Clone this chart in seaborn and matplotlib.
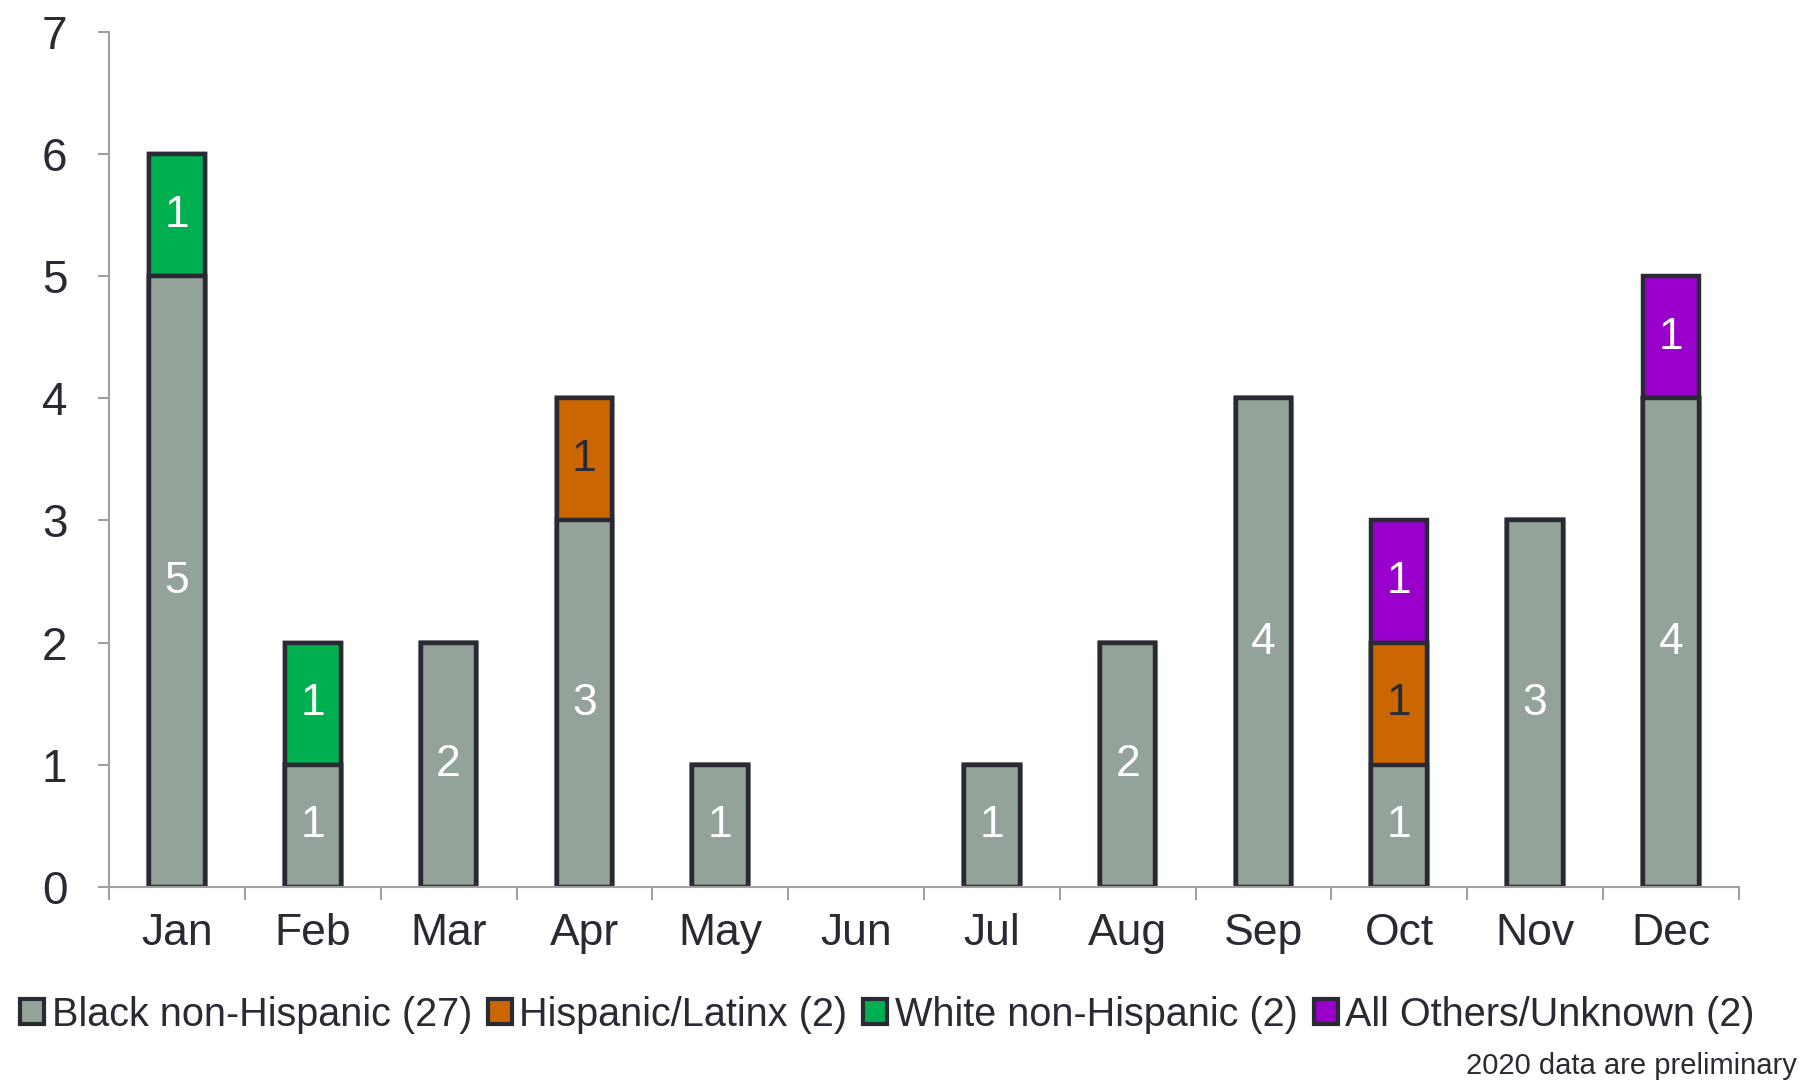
import numpy as np
import pandas as pd
import matplotlib
matplotlib.use("Agg")
import matplotlib.pyplot as plt
from matplotlib.patches import Patch
import seaborn as sns

# data
months = ["Jan", "Feb", "Mar", "Apr", "May", "Jun", "Jul", "Aug", "Sep", "Oct", "Nov", "Dec"]
black = [5, 1, 2, 3, 1, 0, 1, 2, 4, 1, 3, 4]
hispanic = [0, 0, 0, 1, 0, 0, 0, 0, 0, 1, 0, 0]
white = [1, 1, 0, 0, 0, 0, 0, 0, 0, 0, 0, 0]
others = [0, 0, 0, 0, 0, 0, 0, 0, 0, 1, 0, 1]
series_names = ["Black non-Hispanic (27)", "Hispanic/Latinx (2)",
                "White non-Hispanic (2)", "All Others/Unknown (2)"]
colors = ["#94a39a", "#cc6600", "#00b050", "#9900cc"]
label_colors = ["white", "#2a2a35", "white", "white"]
edge = "#2a2a35"
axis_grey = "#a0a0a0"

sns.set_theme(style="white")
plt.rcParams["font.family"] = ["Liberation Sans", "DejaVu Sans"]

df = pd.DataFrame({"month": months, "b": black, "h": hispanic, "w": white, "o": others})
layers = ["b", "h", "w", "o"]
cum = df[layers].cumsum(axis=1)

fig = plt.figure(figsize=(18, 10.84), dpi=100)
ax = fig.add_axes([0.0606, 0.1817, 0.9054, 0.789])

# stacked bars: draw cumulative totals from the top layer down
for i in range(len(layers) - 1, -1, -1):
    d = pd.DataFrame({"month": df["month"], "val": cum[layers[i]]})
    d = d[d["val"] > 0]
    sns.barplot(data=d, x="month", y="val", order=months, color=colors[i],
                saturation=1, width=0.41, edgecolor=edge, linewidth=3.2, ax=ax)

# segment labels
for i, key in enumerate(layers):
    tops = cum[key].values
    vals = df[key].values
    for j in range(len(months)):
        if vals[j] > 0:
            ax.text(j, tops[j] - vals[j] / 2, str(vals[j]), ha="center", va="center",
                    fontsize=32, color=label_colors[i])

ax.set_xlim(-0.5, len(months) - 0.5)
ax.set_ylim(0, 7)
ax.set_yticks(range(0, 8))
ax.set_xlabel("")
ax.set_ylabel("")
for s in ["top", "right"]:
    ax.spines[s].set_visible(False)
for s in ["left", "bottom"]:
    ax.spines[s].set_color(axis_grey)
    ax.spines[s].set_linewidth(1.5)

ax.set_xticks(np.arange(-0.5, len(months), 1), minor=True)
ax.tick_params(axis="x", which="major", length=0, pad=19, labelsize=32, labelcolor="#2a2a35")
ax.tick_params(axis="x", which="minor", length=9, width=1.5, color=axis_grey, direction="out")
ax.tick_params(axis="y", length=8, width=1.5, color=axis_grey, direction="out",
               pad=22, labelsize=33, labelcolor="#2a2a35", left=True)
ax.tick_params(axis="x", which="minor", bottom=True)

handles = [Patch(facecolor=c, edgecolor=edge, linewidth=3) for c in colors]
fig.legend(handles, series_names, loc="center", bbox_to_anchor=(0.493, 0.064), ncol=4,
           frameon=False, fontsize=28.5, handlelength=0.6, handleheight=0.6,
           handletextpad=0.2, columnspacing=0.4, labelcolor="#2a2a35")

fig.text(0.998, 0.004, "2020 data are preliminary", ha="right", va="bottom",
         fontsize=21, color="#2a2a35")

fig.savefig("out.png", dpi=100)
